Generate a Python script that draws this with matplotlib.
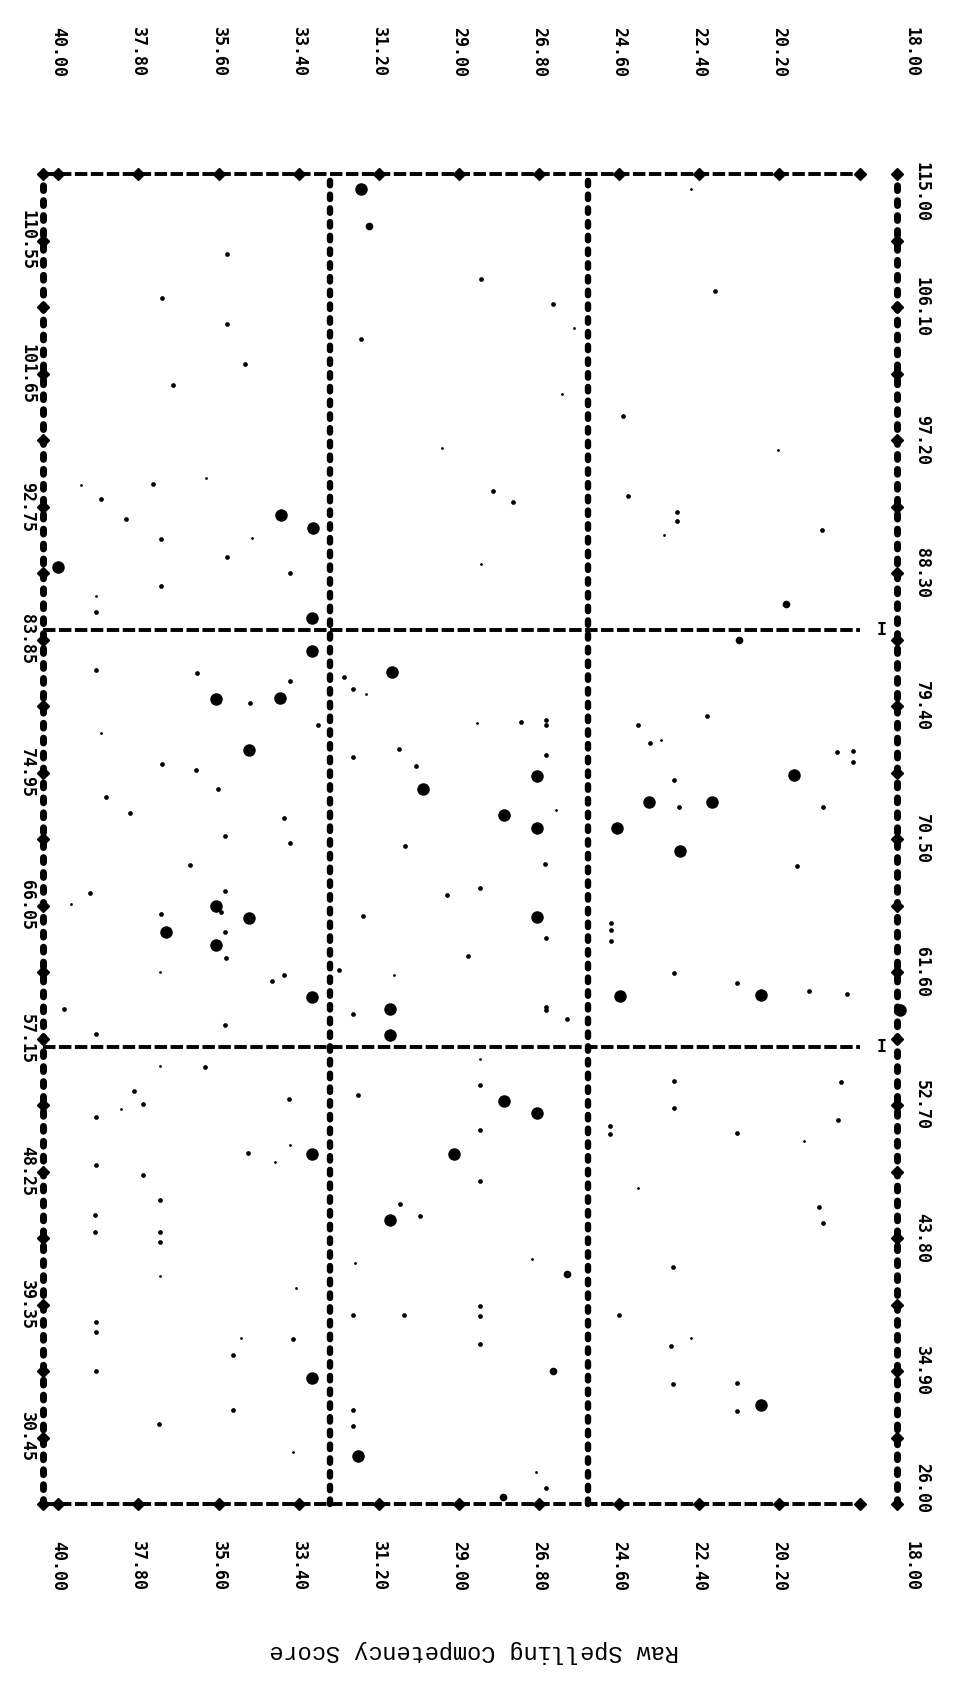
import matplotlib
matplotlib.use("Agg")
import matplotlib.pyplot as plt
import matplotlib.transforms as mtransforms

# eje horizontal: puntaje de competencia ortografica (40 -> 18)
# eje vertical: puntaje bruto (26 -> 115)
spell_ticks = [40.00, 37.80, 35.60, 33.40, 31.20, 29.00, 26.80, 24.60, 22.40, 20.20, 18.00]
raw_ticks = [26.00, 34.90, 43.80, 52.70, 61.60, 70.50, 79.40, 88.30, 97.20, 106.10, 115.00]
raw_mid = [30.45, 39.35, 48.25, 57.15, 66.05, 74.95, 83.85, 92.75, 101.65, 110.55]
spell_cuts = [32.54, 25.45]
raw_cuts = [84.5, 56.6]
y_title = "Raw Spelling Competency Score"

# puntos grandes (asteriscos impresos)
big_spell = [33.89, 33.01, 40.00, 33.04, 31.70, 33.04, 35.68, 33.92, 34.77, 30.85,
             26.86, 29.99, 27.76, 26.85, 19.81, 23.79, 22.06, 24.65, 35.68, 34.76,
             37.04, 35.68, 33.04, 26.85, 30.88, 30.88, 22.93, 24.59, 20.70, 33.04,
             33.04, 27.76, 26.85, 29.13, 30.90, 31.76, 20.70, 16.89]
big_raw = [92.21, 91.29, 88.68, 85.26, 114.02, 83.10, 79.88, 79.94, 76.44, 81.70,
           74.71, 73.85, 72.13, 71.26, 74.77, 72.99, 72.99, 71.26, 66.02, 65.21,
           64.29, 63.39, 59.93, 65.27, 59.12, 57.39, 69.72, 60.02, 60.07, 49.42,
           34.40, 52.94, 52.19, 49.42, 45.00, 29.20, 32.64, 59.05]

# puntos medianos
med_spell = [31.48, 20.01, 21.31, 26.03, 26.42, 27.78]
med_raw = [111.55, 86.21, 83.79, 41.39, 34.89, 26.46]

# puntos chicos
small_spell = [35.37, 37.16, 35.37, 34.88, 36.84, 37.41, 38.82, 38.15, 37.17, 35.37,
               33.63, 37.17, 38.96, 28.39, 26.42, 31.69, 28.07, 27.51, 21.97, 24.50,
               24.37, 23.01, 23.01, 19.02, 38.96, 36.19, 33.63, 34.74, 32.87, 37.14,
               36.23, 38.68, 35.61, 38.02, 33.79, 35.41, 32.15, 31.90, 27.29, 26.61,
               26.61, 30.64, 31.90, 30.18, 26.61, 24.09, 22.19, 23.75, 18.61, 18.18,
               18.18, 23.08, 22.97, 18.99, 33.63, 36.37, 39.13, 35.42, 35.54, 37.17,
               35.42, 35.39, 33.79, 34.13, 39.83, 35.42, 38.96, 30.47, 26.63, 29.33,
               28.41, 31.63, 26.61, 28.75, 32.30, 31.90, 26.61, 26.61, 26.03, 19.72,
               24.83, 24.83, 24.83, 23.08, 21.35, 19.38, 18.35, 35.96, 37.91, 37.67,
               38.96, 33.66, 34.78, 38.96, 37.68, 37.20, 38.99, 38.99, 37.20, 37.20,
               38.96, 38.96, 33.55, 35.21, 38.96, 35.21, 37.23, 28.41, 31.76, 28.41,
               28.41, 30.61, 30.07, 31.90, 30.50, 28.41, 28.41, 28.41, 31.90, 31.92,
               26.61, 23.08, 18.50, 23.08, 18.58, 24.85, 24.85, 21.35, 19.12, 19.01,
               23.11, 24.60, 23.18, 23.11, 21.35, 21.35]
small_raw = [109.63, 106.70, 104.94, 102.27, 100.89, 94.28, 93.22, 91.93, 90.60, 89.40,
             88.33, 87.41, 85.72, 107.96, 106.32, 103.94, 93.76, 93.02, 107.18, 98.79,
             93.45, 92.38, 91.81, 91.15, 81.81, 81.61, 81.09, 79.60, 78.16, 75.52,
             75.09, 73.28, 73.85, 72.24, 71.90, 70.69, 81.33, 80.52, 78.30, 78.45,
             78.16, 76.52, 76.01, 75.41, 76.09, 78.16, 78.71, 76.90, 76.35, 76.38,
             75.63, 74.48, 72.64, 72.64, 70.21, 68.77, 66.86, 67.00, 65.59, 65.50,
             64.26, 62.53, 61.37, 60.99, 59.15, 58.05, 57.42, 70.06, 68.85, 66.74,
             67.23, 65.33, 63.89, 62.64, 61.72, 58.77, 59.29, 59.03, 58.43, 68.68,
             64.90, 64.41, 63.68, 61.52, 60.88, 60.36, 60.16, 55.25, 53.63, 52.77,
             51.93, 53.11, 49.48, 48.67, 48.00, 46.36, 45.35, 44.19, 44.19, 43.56,
             38.16, 37.49, 37.06, 35.96, 34.89, 32.27, 31.34, 54.04, 53.40, 51.06,
             47.60, 46.07, 45.29, 38.65, 38.65, 39.28, 38.56, 36.71, 32.29, 31.20,
             27.10, 54.30, 54.24, 52.51, 51.70, 51.27, 50.78, 50.80, 45.87, 44.80,
             41.88, 38.65, 36.54, 34.03, 34.08, 32.21]

# puntos muy chicos
tiny_spell = [39.38, 35.95, 34.69, 38.96, 25.84, 26.18, 29.47, 28.39, 22.64, 20.24,
              23.37, 38.82, 31.55, 28.51, 26.32, 23.44, 39.64, 37.20, 30.78, 37.20,
              38.28, 33.65, 34.05, 37.20, 33.46, 34.98, 33.55, 28.41, 31.85, 27.00,
              26.88, 19.52, 24.09, 22.64]
tiny_raw = [94.17, 94.65, 90.63, 86.78, 104.71, 100.26, 96.67, 88.87, 114.02, 96.55,
            90.86, 77.58, 80.23, 78.28, 72.41, 77.15, 66.14, 61.58, 61.40, 55.31,
            52.45, 49.99, 48.90, 41.25, 40.47, 37.12, 29.49, 55.77, 42.11, 42.40,
            28.14, 50.31, 47.14, 37.12]

W, H = 960, 1703
fig = plt.figure(figsize=(W / 100, H / 100), dpi=100)
ax = fig.add_axes([43 / W, (H - 1504) / H, (859.5 - 43) / W, 1330 / H])
borde_izq = 40.42          # columna del borde, una posicion antes de 40
ax.set_xlim(borde_izq, 18)
ax.set_ylim(26, 115)
ax.axis("off")

axis_col = 16.97   # columna del eje de puntaje bruto (fuera del marco)
mark_col = 17.38   # marcas "I"

cadena_v = dict(color="k", lw=5.0, linestyle=(0, (0.7, 1.45)),
                dash_capstyle="round", clip_on=False, zorder=2)
cadena_h = dict(color="k", lw=2.8, linestyle=(0, (3.2, 0.9)),
                dash_capstyle="butt", clip_on=False, zorder=2)

# bordes y lineas de corte
ax.plot([borde_izq, borde_izq], [26, 115], **cadena_v)
ax.plot([axis_col, axis_col], [26, 115], **cadena_v)
for s in spell_cuts:
    ax.plot([s, s], [26, 115], **dict(cadena_v, lw=4.6))
for r in [26, 115] + raw_cuts:
    ax.plot([borde_izq, 18], [r, r], **cadena_h)

# marcas de division
marcas = raw_ticks + raw_mid
ax.plot([borde_izq] * len(marcas), marcas, "D", color="k", ms=6.5, clip_on=False, zorder=3)
ax.plot([axis_col] * len(marcas), marcas, "D", color="k", ms=6.5, clip_on=False, zorder=3)
ax.plot(spell_ticks, [115] * len(spell_ticks), "D", color="k", ms=6.5, clip_on=False, zorder=3)
ax.plot(spell_ticks, [26] * len(spell_ticks), "D", color="k", ms=6.5, clip_on=False, zorder=3)

# datos
ax.plot(big_spell, big_raw, "o", color="k", ms=9, mew=0, clip_on=False, zorder=4)
ax.plot(med_spell, med_raw, "o", color="k", ms=5.5, mew=0, clip_on=False, zorder=4)
ax.plot(small_spell, small_raw, "o", color="k", ms=3.4, mew=0, clip_on=False, zorder=4)
ax.plot(tiny_spell, tiny_raw, "o", color="k", ms=2.0, mew=0, clip_on=False, zorder=4)

fuente = dict(family="DejaVu Sans Mono", fontweight="bold", fontsize=12,
              rotation=270, ha="center", va="center")

# etiquetas arriba y abajo
tr_top = mtransforms.blended_transform_factory(ax.transData, fig.transFigure)
for s in spell_ticks[:-1]:
    ax.text(s, 1 - 52 / H, f"{s:.2f}", transform=tr_top, **fuente)
    ax.text(s, 1 - 1566 / H, f"{s:.2f}", transform=tr_top, **fuente)
fig.text(912 / W, 1 - 52 / H, f"{spell_ticks[-1]:.2f}", **fuente)
fig.text(912 / W, 1 - 1566 / H, f"{spell_ticks[-1]:.2f}", **fuente)

# etiquetas de la derecha (puntaje bruto)
tr_side = mtransforms.blended_transform_factory(fig.transFigure, ax.transData)
for r in raw_ticks:
    dy = -18 if r == raw_ticks[-1] else (16 if r == raw_ticks[0] else 0)
    t = mtransforms.offset_copy(tr_side, fig=fig, x=0, y=dy, units="dots")
    ax.text(922 / W, r, f"{r:.2f}", transform=t, **fuente)

# etiquetas de la izquierda (puntos medios)
for r in raw_mid:
    ax.text(27 / W, r, f"{r:.2f}", transform=tr_side, **fuente)

# marcas I junto al eje
for r in raw_cuts:
    ax.text(mark_col, r, "I", family="DejaVu Sans Mono", fontweight="bold",
            fontsize=12, ha="center", va="center", clip_on=False)

fig.text(474 / W, 1 - 1651 / H, y_title, rotation=180, ha="center", va="center",
         family="Liberation Mono", fontsize=17)

fig.savefig("out.png", dpi=100, facecolor="white")
